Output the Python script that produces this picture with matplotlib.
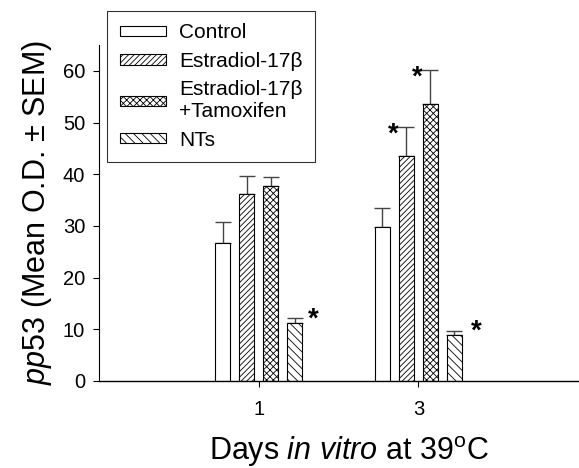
import matplotlib
matplotlib.use("Agg")
import matplotlib.pyplot as plt
import numpy as np
from matplotlib.patches import Patch

plt.rcParams['font.family'] = ['Liberation Sans', 'DejaVu Sans']
plt.rcParams['mathtext.fontset'] = 'custom'
plt.rcParams['mathtext.rm'] = 'Liberation Sans'
plt.rcParams['mathtext.it'] = 'Liberation Sans:italic'
plt.rcParams['hatch.linewidth'] = 0.6

days = [1, 3]
day_labels = ['1', '3']
series = ['Control', 'Estradiol-17β', 'Estradiol-17β\n+Tamoxifen', 'NTs']
control = [26.6, 29.8]
control_sem = [4.1, 3.6]
estradiol = [36.2, 43.6]
estradiol_sem = [3.5, 5.6]
tamoxifen = [37.8, 53.5]
tamoxifen_sem = [1.6, 6.7]
nts = [11.2, 8.9]
nts_sem = [1.0, 0.8]
# significance markers: (series index, day index)
stars = [(3, 0), (1, 1), (2, 1), (3, 1)]

values = [control, estradiol, tamoxifen, nts]
sems = [control_sem, estradiol_sem, tamoxifen_sem, nts_sem]
hatches = ['', '//////', 'xxxxx', '\\\\\\\\']
offsets = [-0.45, -0.15, 0.15, 0.45]
width = 0.19
star_dx = {(3, 0): 0.24, (1, 1): -0.16, (2, 1): -0.16, (3, 1): 0.28}

fig = plt.figure(figsize=(5.79, 4.68), dpi=100)
ax = fig.add_axes([99/579, 1-381/468, (578-99)/579, (381-45)/468])

x = np.array(days, dtype=float)
for i in range(4):
    ax.bar(x + offsets[i], values[i], width, color='white', edgecolor='black',
           hatch=hatches[i], linewidth=0.8, zorder=2)
    ax.errorbar(x + offsets[i], values[i],
                yerr=[np.zeros(len(days)), sems[i]], fmt='none',
                ecolor='#444444', elinewidth=1.0, capsize=5.5, capthick=1.0,
                zorder=1)

for si, di in stars:
    top = values[si][di] + sems[si][di]
    ypos = top - 1.6 if si != 3 else values[si][di] + 0.6
    ax.text(x[di] + offsets[si] + star_dx[(si, di)], ypos,
            '*', fontsize=20, fontweight='bold', ha='center', va='center')

ax.set_xlim(-1, 5)
ax.set_ylim(0, 65)
ax.set_xticks(days)
ax.set_xticklabels(day_labels)
ax.set_yticks(np.arange(0, 61, 10))
for s in ['top', 'right']:
    ax.spines[s].set_visible(False)
ax.spines['left'].set_linewidth(0.8)
ax.spines['bottom'].set_linewidth(1.0)
ax.tick_params(axis='both', direction='out', length=4, width=0.8,
               labelsize=14.5, pad=6)
ax.tick_params(axis='x', pad=10)

ax.set_ylabel(r'$\mathit{pp}$53 (Mean O.D. ± SEM)', fontsize=22, labelpad=6)
fig.text(349/579, 1-452/468, r'Days $\mathit{in\ vitro}$ at 39$^{\mathrm{o}}$C',
         fontsize=22, ha='center', va='center')

handles = [Patch(facecolor='white', edgecolor='black', hatch=h, linewidth=0.8)
           for h in hatches]
leg = fig.legend(handles, series, loc='upper left',
                 bbox_to_anchor=(107/579, 1-11/468), bbox_transform=fig.transFigure,
                 borderaxespad=0, fontsize=15, frameon=True, fancybox=False,
                 edgecolor='black', handlelength=2.25, handleheight=0.38,
                 labelspacing=0.45, handletextpad=0.6, borderpad=0.6)
leg.get_frame().set_linewidth(0.8)

fig.savefig('out.png', dpi=100)
